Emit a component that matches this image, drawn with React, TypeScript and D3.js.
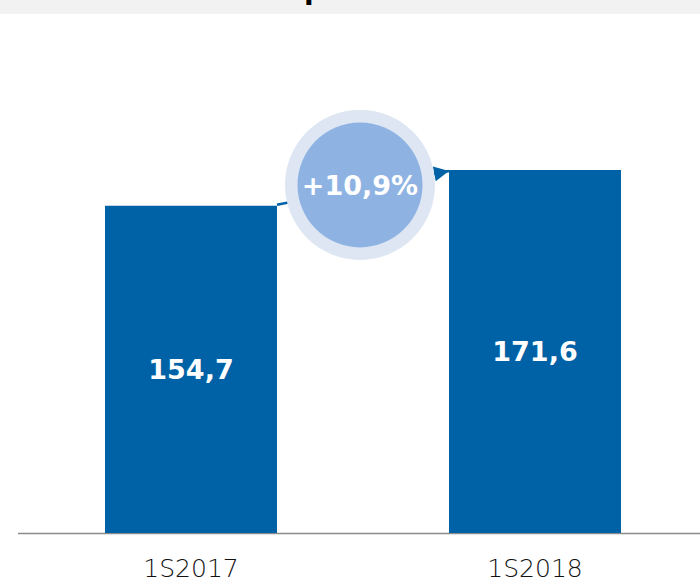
import React, { useRef, useEffect } from "react";
import * as d3 from "d3";

const categories: string[] = ["1S2017", "1S2018"];
const values: number[] = [154.7, 171.6];
const valueLabels: string[] = ["154,7", "171,6"];
const growthLabel = "+10,9%";

const chart_width = 700;
const chart_height = 582;
const baseline = 533;
const barColor = "#0062a6";

const App: React.FC = () => {
  const d3Container = useRef<SVGSVGElement>(null);

  useEffect(() => {
    if (!d3Container.current) return;
    const svg = d3.select(d3Container.current);
    svg.selectAll("*").remove();

    // top band with the cut title
    svg.append("rect").attr("x", 0).attr("y", 0).attr("width", chart_width).attr("height", 14).attr("fill", "#f2f2f2");
    svg
      .append("text")
      .attr("x", 304)
      .attr("y", -1)
      .attr("font-family", "DejaVu Sans")
      .attr("font-weight", "bold")
      .attr("font-size", 28)
      .attr("fill", "#000")
      .text("p");

    const x_scale = d3
      .scaleBand<string>()
      .domain(categories)
      .range([19, 707])
      .paddingInner(0.5)
      .paddingOuter(0.25);

    const y_scale = d3
      .scaleLinear()
      .domain([0, d3.max(values) as number])
      .range([baseline, 170]);

    const defs = svg.append("defs");
    defs
      .append("marker")
      .attr("id", "arrow")
      .attr("viewBox", "0 0 10 10")
      .attr("refX", 10)
      .attr("refY", 5)
      .attr("markerWidth", 7)
      .attr("markerHeight", 6)
      .attr("markerUnits", "strokeWidth")
      .attr("orient", "auto")
      .append("path")
      .attr("d", "M0,0 L10,5 L0,10 Z")
      .attr("fill", barColor);

    // baseline
    svg
      .append("line")
      .attr("x1", 18)
      .attr("x2", chart_width)
      .attr("y1", baseline + 0.5)
      .attr("y2", baseline + 0.5)
      .attr("stroke", "#8c8c8c")
      .attr("stroke-width", 1.5);

    svg
      .selectAll("rect.bar")
      .data(values)
      .enter()
      .append("rect")
      .attr("class", "bar")
      .attr("x", (_d, i) => x_scale(categories[i]) as number)
      .attr("y", (d) => y_scale(d))
      .attr("width", x_scale.bandwidth())
      .attr("height", (d) => baseline - y_scale(d))
      .attr("fill", barColor);

    svg
      .selectAll("text.value")
      .data(values)
      .enter()
      .append("text")
      .attr("class", "value")
      .attr("x", (_d, i) => (x_scale(categories[i]) as number) + x_scale.bandwidth() / 2)
      .attr("y", (d) => (y_scale(d) + baseline) / 2)
      .attr("dy", "0.36em")
      .attr("text-anchor", "middle")
      .attr("font-family", "DejaVu Sans")
      .attr("font-weight", "bold")
      .attr("font-size", 27)
      .attr("fill", "#fff")
      .text((_d, i) => valueLabels[i]);

    svg
      .selectAll("text.cat")
      .data(categories)
      .enter()
      .append("text")
      .attr("class", "cat")
      .attr("x", (d) => (x_scale(d) as number) + x_scale.bandwidth() / 2)
      .attr("y", 577)
      .attr("text-anchor", "middle")
      .attr("font-family", "DejaVu Sans")
      .attr("font-weight", 300)
      .attr("font-size", 25)
      .attr("fill", "#111")
      .text((d) => d);

    // growth arrow between bar tops
    const x1 = (x_scale(categories[0]) as number) + x_scale.bandwidth();
    const y1 = y_scale(values[0]) - 1;
    const x2 = x_scale(categories[1]) as number;
    const y2 = y_scale(values[1]) + 1;
    svg
      .append("line")
      .attr("x1", x1)
      .attr("y1", y1)
      .attr("x2", x2)
      .attr("y2", y2)
      .attr("stroke", barColor)
      .attr("stroke-width", 2.5)
      .attr("marker-end", "url(#arrow)");

    const cx = (x1 + x2) / 2 - 3;
    const cy = (y1 + y2) / 2 - 3;
    svg.append("circle").attr("cx", cx).attr("cy", cy).attr("r", 75).attr("fill", "#dde6f2");
    svg.append("circle").attr("cx", cx).attr("cy", cy).attr("r", 62.5).attr("fill", "#8eb3e3");
    svg
      .append("text")
      .attr("x", cx)
      .attr("y", cy)
      .attr("dy", "0.36em")
      .attr("text-anchor", "middle")
      .attr("font-family", "DejaVu Sans")
      .attr("font-weight", "bold")
      .attr("font-size", 27)
      .attr("fill", "#fff")
      .text(growthLabel);
  }, []);

  return (
    <svg
      ref={d3Container}
      width={chart_width}
      height={chart_height}
      style={{ position: "absolute", left: 0, top: 0 }}
    />
  );
};

export default App;
